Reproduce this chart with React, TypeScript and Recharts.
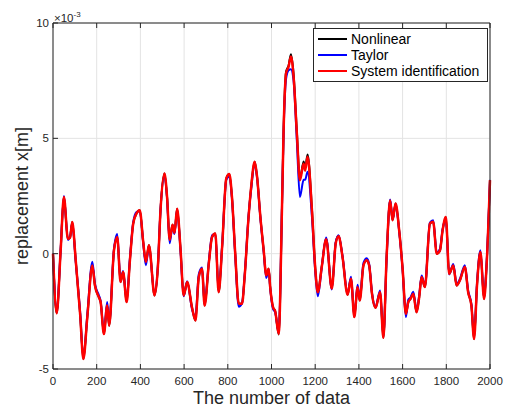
import { LineChart, Line, XAxis, YAxis, CartesianGrid, Legend } from "recharts";

const FONT = "'Liberation Sans', Arial, Helvetica, sans-serif";
const AXIS = "#262626";

// sample index (x)
const sampleIndex = [
  0, 17, 35, 50, 68, 78, 88, 104, 124, 139,
  157, 180, 192, 210, 218, 233, 248, 257, 279, 294,
  309, 321, 337, 352, 367, 382, 397, 413, 425, 439,
  465, 480, 492, 510, 522, 534, 547, 556, 568, 583,
  598, 614, 636, 652, 667, 682, 694, 713, 728, 743,
  758, 774, 793, 807, 819, 834, 850, 865, 877, 895,
  907, 923, 934, 949, 964, 976, 987, 994, 1007, 1017,
  1033, 1048, 1055, 1067, 1078, 1089, 1101, 1116, 1130, 1147,
  1154, 1165, 1185, 1200, 1212, 1230, 1250, 1276, 1294, 1307,
  1325, 1348, 1364, 1379, 1394, 1404, 1421, 1436, 1447, 1460,
  1476, 1497, 1512, 1527, 1543, 1554, 1568, 1585, 1600, 1615,
  1626, 1636, 1649, 1664, 1676, 1687, 1702, 1725, 1740, 1756,
  1771, 1783, 1798, 1813, 1832, 1847, 1862, 1885, 1900, 1915,
  1927, 1941, 1956, 1973, 1984, 2000,
];

// displacement in units of 1e-3 m
const nonlinear = [
  0, -2.58, 0.14, 2.46, 0.65, 0.7, 1.37, -0.29, -2.6, -4.57,
  -2.75, -0.51, -1.38, -1.89, -2.1, -3.48, -2.25, -3.12, 0.14, 0.72,
  -1.23, -0.8, -2.1, -0.29, 1.3, 1.74, 1.88, 0.5, -0.36, 0.36,
  -1.81, -0.58, 1.88, 3.48, 2.46, 0.6, 1.25, 0.9, 1.95, 0.29,
  -1.81, -1.23, -2.32, -2.9, -1.02, -0.65, -2.25, -0.43, 0.72, 0.87,
  -1.67, 0.29, 3.26, 3.45, 2.46, 0, -2.17, -2.17, -1.01, 1.59,
  2.9, 3.98, 3.33, 1.6, 0.17, -0.94, -0.65, -1.45, -2.32, -2.5,
  -3.5, 2.0, 5.25, 7.9, 8.15, 8.65, 7.8, 5.3, 3.25, 4.0,
  3.7, 4.3, 1.95, -0.6, -1.65, -0.55, 0.65, -1.5, 0.48, 0.78,
  -0.14, -1.78, -1.09, -2.75, -1.46, -2.03, -0.5, -0.29, -0.51, -1.74,
  -2.35, -1.67, -3.65, -0.1, 2.3, 1.45, 2.17, 0.94, -0.65, -2.61,
  -2.1, -1.96, -1.74, -2.54, -1.88, -1.01, -1.45, 1.3, 1.38, 0,
  0.14, 1.01, 1.59, -0.87, -0.51, -1.38, -1.16, -0.58, -1.67, -2.25,
  -3.7, -1.3, 0.07, -1.96, -0.58, 3.19,
];

const taylor = [
  0, -2.5, 0.2, 2.5, 0.6, 0.75, 1.3, -0.35, -2.5, -4.5,
  -2.65, -0.35, -1.3, -1.8, -2.05, -3.4, -2.1, -3.0, 0.2, 0.85,
  -1.15, -0.75, -2.0, -0.2, 1.35, 1.8, 1.85, 0.45, -0.5, 0.3,
  -1.75, -0.5, 1.9, 3.4, 2.4, 0.45, 1.2, 0.85, 1.9, 0.2,
  -1.85, -1.2, -2.4, -2.75, -0.9, -0.6, -2.2, -0.35, 0.8, 0.85,
  -1.6, 0.35, 3.2, 3.35, 2.4, -0.1, -2.3, -2.15, -0.95, 1.65,
  2.8, 3.85, 3.3, 1.55, 0.1, -1.05, -0.7, -1.5, -2.4, -2.55,
  -3.4, 2.1, 5.1, 7.6, 7.95, 8.0, 7.5, 4.9, 2.46, 3.2,
  3.2, 3.55, 1.6, -0.75, -1.85, -0.6, 0.7, -1.55, 0.5, 0.8,
  -0.1, -1.7, -1.0, -2.7, -1.35, -1.95, -0.4, -0.2, -0.45, -1.7,
  -2.3, -1.6, -3.55, -0.2, 2.35, 1.5, 2.1, 0.9, -0.7, -2.75,
  -2.0, -1.9, -1.65, -2.45, -1.8, -0.95, -1.4, 1.35, 1.45, 0.05,
  0.2, 1.05, 1.5, -0.9, -0.45, -1.3, -1.1, -0.5, -1.6, -2.2,
  -3.6, -1.2, 0.15, -1.9, -0.5, 3.2,
];

const systemId = [
  0, -2.58, 0.14, 2.46, 0.65, 0.7, 1.37, -0.29, -2.6, -4.57,
  -2.75, -0.51, -1.38, -1.89, -2.1, -3.48, -2.25, -3.12, 0.14, 0.72,
  -1.23, -0.8, -2.1, -0.29, 1.3, 1.74, 1.88, 0.5, -0.36, 0.36,
  -1.81, -0.58, 1.88, 3.48, 2.46, 0.6, 1.25, 0.9, 1.95, 0.29,
  -1.81, -1.23, -2.32, -2.9, -1.02, -0.65, -2.25, -0.43, 0.72, 0.87,
  -1.67, 0.29, 3.26, 3.45, 2.46, 0, -2.17, -2.17, -1.01, 1.59,
  2.9, 3.98, 3.33, 1.6, 0.17, -0.94, -0.65, -1.45, -2.32, -2.5,
  -3.48, 2.0, 5.2, 7.83, 8.1, 8.55, 7.68, 5.22, 3.18, 3.9,
  3.6, 4.2, 1.9, -0.6, -1.67, -0.58, 0.63, -1.51, 0.45, 0.75,
  -0.14, -1.78, -1.09, -2.75, -1.46, -2.03, -0.5, -0.29, -0.51, -1.74,
  -2.35, -1.67, -3.65, -0.1, 2.3, 1.45, 2.17, 0.94, -0.65, -2.61,
  -2.1, -1.96, -1.74, -2.54, -1.88, -1.01, -1.45, 1.3, 1.38, 0,
  0.14, 1.01, 1.59, -0.87, -0.51, -1.38, -1.16, -0.58, -1.67, -2.25,
  -3.7, -1.3, 0.07, -1.96, -0.58, 3.19,
];

const xTicks = [0, 200, 400, 600, 800, 1000, 1200, 1400, 1600, 1800, 2000];
const yTicks = [-5, 0, 5, 10];

const series = [
  { key: "nonlinear", name: "Nonlinear", color: "#000000", width: 2 },
  { key: "taylor", name: "Taylor", color: "#0000ff", width: 2 },
  { key: "systemId", name: "System identification", color: "#ff0000", width: 2.5 },
];

const rows = sampleIndex.map((x, i) => ({
  x,
  nonlinear: nonlinear[i],
  taylor: taylor[i],
  systemId: systemId[i],
}));

function LegendBox() {
  return (
    <div
      style={{
        width: 175,
        height: 54,
        boxSizing: "border-box",
        border: `1px solid ${AXIS}`,
        background: "#fff",
        padding: "2px 0 0 4px",
        fontFamily: FONT,
        fontSize: 14,
        color: "#000",
      }}
    >
      {series.map((s) => (
        <div key={s.key} style={{ display: "flex", alignItems: "center", height: 16, lineHeight: "16px" }}>
          <span style={{ width: 29, height: 0, borderTop: `2px solid ${s.color}`, marginRight: 4 }} />
          <span>{s.name}</span>
        </div>
      ))}
    </div>
  );
}

// y title plus the MATLAB-style exponent note above the axis
function YTitle(p: any) {
  const vb = p.viewBox;
  const cy = vb.y + vb.height / 2;
  return (
    <g>
      <text
        x={22}
        y={cy}
        transform={`rotate(-90 22 ${cy})`}
        textAnchor="middle"
        dy="0.35em"
        fontSize={18}
        fill={AXIS}
        fontFamily={FONT}
      >
        replacement x[m]
      </text>
      <text x={vb.x + vb.width + 1} y={vb.y - 1.5} fontSize={11.5} fill={AXIS} fontFamily={FONT}>
        ×10
        <tspan dy={-5} fontSize={8}>-3</tspan>
      </text>
    </g>
  );
}

const tickStyle = { fontSize: 11.5, fill: AXIS, fontFamily: FONT };

export default function App() {
  return (
    <div style={{ width: 508, height: 412, background: "#fff" }}>
      <style>{"body{margin:0}"}</style>
      <LineChart width={508} height={412} data={rows} margin={{ top: 22, right: 17, bottom: 0, left: 0 }}>
        <CartesianGrid stroke="#e3e3e3" strokeWidth={1} />
        <XAxis
          dataKey="x"
          type="number"
          domain={[0, 2000]}
          ticks={xTicks}
          height={43}
          tickSize={-5}
          tickMargin={13}
          stroke={AXIS}
          tick={tickStyle}
          label={{ value: "The number of data", position: "insideBottom", offset: 8, fontSize: 18, fill: AXIS, fontFamily: FONT }}
        />
        <XAxis
          xAxisId="top"
          orientation="top"
          dataKey="x"
          type="number"
          domain={[0, 2000]}
          ticks={xTicks}
          height={1}
          tickSize={-5}
          tickFormatter={() => ""}
          stroke={AXIS}
        />
        <YAxis
          type="number"
          domain={[-5, 10]}
          ticks={yTicks}
          width={53}
          tickSize={-5}
          tickMargin={9}
          stroke={AXIS}
          tick={tickStyle}
          label={{ content: (p: any) => <YTitle {...p} /> }}
        />
        <YAxis
          yAxisId="right"
          orientation="right"
          type="number"
          domain={[-5, 10]}
          ticks={yTicks}
          width={1}
          tickSize={-5}
          tickFormatter={() => ""}
          stroke={AXIS}
        />
        <Legend
          layout="vertical"
          align="center"
          verticalAlign="middle"
          wrapperStyle={{ left: 313, top: 28, width: 175, height: 54 }}
          content={() => <LegendBox />}
        />
        {series.map((s) => (
          <Line
            key={s.key}
            dataKey={s.key}
            name={s.name}
            type="monotone"
            stroke={s.color}
            strokeWidth={s.width}
            dot={false}
            activeDot={false}
            isAnimationActive={false}
          />
        ))}
      </LineChart>
    </div>
  );
}
